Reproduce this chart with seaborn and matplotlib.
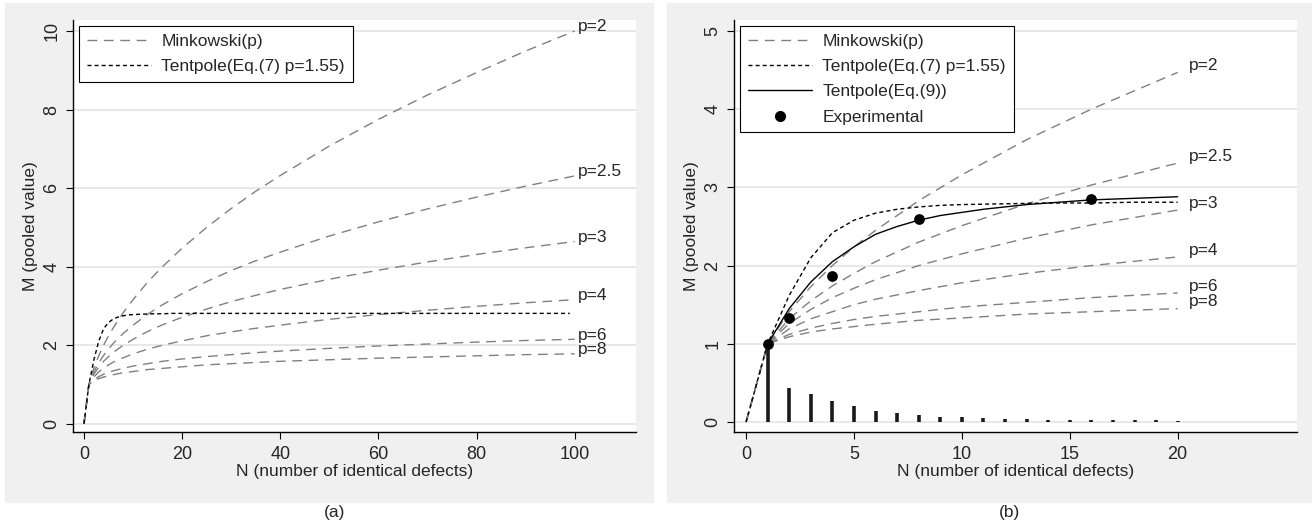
import numpy as np
import pandas as pd
import seaborn as sns
import matplotlib.pyplot as plt
from matplotlib.patches import Rectangle
from matplotlib.lines import Line2D

# ---------- data ----------
N_MINK = [0, 1, 2, 3, 4, 5, 6, 8, 10, 13, 16, 20, 25, 30, 35, 40, 50, 60, 70, 80, 90, 100]
P_LABELS = ['p=2', 'p=2.5', 'p=3', 'p=4', 'p=6', 'p=8']
M_P2 = [0, 1, 1.41, 1.73, 2.0, 2.24, 2.45, 2.83, 3.16, 3.61, 4.0, 4.47, 5.0, 5.48, 5.92, 6.32, 7.07, 7.75, 8.37, 8.94, 9.49, 10.0]
M_P25 = [0, 1, 1.32, 1.55, 1.74, 1.90, 2.05, 2.30, 2.51, 2.79, 3.03, 3.31, 3.62, 3.90, 4.15, 4.37, 4.78, 5.14, 5.47, 5.77, 6.05, 6.31]
M_P3 = [0, 1, 1.26, 1.44, 1.59, 1.71, 1.82, 2.0, 2.15, 2.35, 2.52, 2.71, 2.92, 3.11, 3.27, 3.42, 3.68, 3.91, 4.12, 4.31, 4.48, 4.64]
M_P4 = [0, 1, 1.19, 1.32, 1.41, 1.50, 1.57, 1.68, 1.78, 1.90, 2.0, 2.11, 2.24, 2.34, 2.43, 2.51, 2.66, 2.78, 2.89, 2.99, 3.08, 3.16]
M_P6 = [0, 1, 1.12, 1.20, 1.26, 1.31, 1.35, 1.41, 1.47, 1.53, 1.59, 1.65, 1.71, 1.76, 1.81, 1.85, 1.92, 1.98, 2.03, 2.08, 2.12, 2.15]
M_P8 = [0, 1, 1.09, 1.15, 1.19, 1.22, 1.25, 1.30, 1.33, 1.38, 1.41, 1.45, 1.50, 1.53, 1.56, 1.59, 1.63, 1.67, 1.70, 1.73, 1.76, 1.78]
MINK = [M_P2, M_P25, M_P3, M_P4, M_P6, M_P8]

N_T7 = [0, 1, 2, 3, 4, 5, 6, 7, 8, 9, 10, 12, 14, 16, 18, 20, 40, 60, 80, 99]
M_T7 = [0, 1, 1.62, 2.10, 2.42, 2.58, 2.67, 2.72, 2.75, 2.77, 2.78, 2.79, 2.80, 2.80, 2.81, 2.81, 2.81, 2.81, 2.81, 2.81]

N_T9 = [1, 2, 3, 4, 5, 6, 7, 8, 9, 10, 11, 12, 13, 14, 15, 16, 17, 18, 19, 20]
M_T9 = [1, 1.45, 1.79, 2.05, 2.24, 2.40, 2.50, 2.58, 2.64, 2.68, 2.72, 2.75, 2.78, 2.80, 2.82, 2.84, 2.85, 2.86, 2.87, 2.88]

N_EXP = [1, 2, 4, 8, 16]
M_EXP = [1.0, 1.33, 1.87, 2.59, 2.85]

N_SPIKE = list(range(1, 21))
H_SPIKE = [1.0, 0.43, 0.36, 0.27, 0.20, 0.145, 0.11, 0.09, 0.07, 0.06,
           0.05, 0.04, 0.035, 0.03, 0.03, 0.025, 0.02, 0.02, 0.02, 0.015]

sns.set_theme(style='white')
plt.rcParams['font.family'] = ['Liberation Sans', 'DejaVu Sans']
FS = 12.5

GRAY = '#808080'
BG = '#f0f0f0'
MINK_LS = (0, (7, 4.8))
T7_LS = (0, (2.9, 2.2))

W, H = 1312, 526
fig = plt.figure(figsize=(W / 100, H / 100), dpi=100)
fig.patch.set_facecolor('white')
fig.patches.append(Rectangle((5 / W, 1 - 502 / H), 648 / W, 499 / H,
                             transform=fig.transFigure, color=BG, zorder=-5))
fig.patches.append(Rectangle((667 / W, 1 - 502 / H), 645 / W, 499 / H,
                             transform=fig.transFigure, color=BG, zorder=-5))

ax_a = fig.add_axes([73 / W, 1 - 432 / H, 563 / W, 412 / H])
ax_b = fig.add_axes([734 / W, 1 - 432 / H, 563 / W, 412 / H])


def style_axes(ax, yticks):
    ax.set_facecolor('white')
    for s in ['top', 'right']:
        ax.spines[s].set_visible(False)
    for s in ['left', 'bottom']:
        ax.spines[s].set_color('black')
        ax.spines[s].set_linewidth(1.0)
    ax.set_yticks(yticks)
    ax.yaxis.grid(True, color='#e6e6e6', linewidth=1.3)
    ax.set_axisbelow(True)
    ax.tick_params(axis='both', direction='out', length=5, width=0.8,
                   color='black', labelsize=13, bottom=True, left=True, pad=5)
    ax.tick_params(axis='y', labelrotation=90, pad=4)
    for lab in ax.get_yticklabels():
        lab.set_va('center')
    ax.set_xlabel('N (number of identical defects)', fontsize=FS, labelpad=1)
    ax.set_ylabel('M (pooled value)', fontsize=FS, labelpad=4)


def add_legend(ax, handles, labels):
    leg = ax.legend(handles, labels, loc='upper left',
                    bbox_to_anchor=(6 / 563, 1 - 6 / 412), fontsize=FS,
                    handlelength=3.7, handletextpad=0.6, borderpad=0.45,
                    labelspacing=0.58, fancybox=False, framealpha=1,
                    borderaxespad=0)
    leg.get_frame().set_edgecolor('black')
    leg.get_frame().set_linewidth(0.8)


h_mink = Line2D([], [], color=GRAY, linewidth=1.0, linestyle=MINK_LS)
h_t7 = Line2D([], [], color='black', linewidth=1.0, linestyle=T7_LS)
h_t9 = Line2D([], [], color='black', linewidth=1.0)
h_exp = Line2D([], [], color='black', linestyle='none', marker='o', markersize=7)

# ---------- panel (a) ----------
for vals in MINK:
    sns.lineplot(x=N_MINK, y=vals, ax=ax_a, color=GRAY, linewidth=1.0,
                 linestyle=MINK_LS, sort=False)
    ax_a.annotate(P_LABELS[MINK.index(vals)], (N_MINK[-1], vals[-1]),
                  xytext=(2, 3), textcoords='offset points', va='center',
                  ha='left', fontsize=FS)
sns.lineplot(x=N_T7, y=M_T7, ax=ax_a, color='black', linewidth=1.0,
             linestyle=T7_LS, sort=False)
ax_a.set_xlim(-2.24, 112.5)
ax_a.set_ylim(-0.21, 10.28)
ax_a.set_xticks([0, 20, 40, 60, 80, 100])
style_axes(ax_a, [0, 2, 4, 6, 8, 10])
add_legend(ax_a, [h_mink, h_t7], ['Minkowski(p)', 'Tentpole(Eq.(7) p=1.55)'])

# ---------- panel (b) ----------
nb = N_MINK.index(20) + 1
for vals in MINK:
    sns.lineplot(x=N_MINK[:nb], y=vals[:nb], ax=ax_b, color=GRAY, linewidth=1.0,
                 linestyle=MINK_LS, sort=False)
    ax_b.annotate(P_LABELS[MINK.index(vals)], (N_MINK[nb - 1], vals[nb - 1]),
                  xytext=(8, 5), textcoords='offset points', va='center',
                  ha='left', fontsize=FS)
nt = N_T7.index(20) + 1
sns.lineplot(x=N_T7[:nt], y=M_T7[:nt], ax=ax_b, color='black', linewidth=1.0,
             linestyle=T7_LS, sort=False)
sns.lineplot(x=N_T9, y=M_T9, ax=ax_b, color='black', linewidth=1.0, sort=False)
ax_b.vlines(N_SPIKE, 0, H_SPIKE, color='#1a1a1a', linewidth=2.6, zorder=3)
sns.scatterplot(x=N_EXP, y=M_EXP, ax=ax_b, color='black', s=60,
                edgecolor='black', linewidth=0, zorder=5)
ax_b.set_xlim(-0.56, 25.53)
ax_b.set_ylim(-0.128, 5.14)
ax_b.set_xticks([0, 5, 10, 15, 20])
style_axes(ax_b, [0, 1, 2, 3, 4, 5])
add_legend(ax_b, [h_mink, h_t7, h_t9, h_exp],
           ['Minkowski(p)', 'Tentpole(Eq.(7) p=1.55)', 'Tentpole(Eq.(9))', 'Experimental'])

fig.text(335 / W, 1 - 512 / H, '(a)', ha='center', va='center', fontsize=FS)
fig.text(1010 / W, 1 - 512 / H, '(b)', ha='center', va='center', fontsize=FS)

fig.savefig('out.png', dpi=100)
